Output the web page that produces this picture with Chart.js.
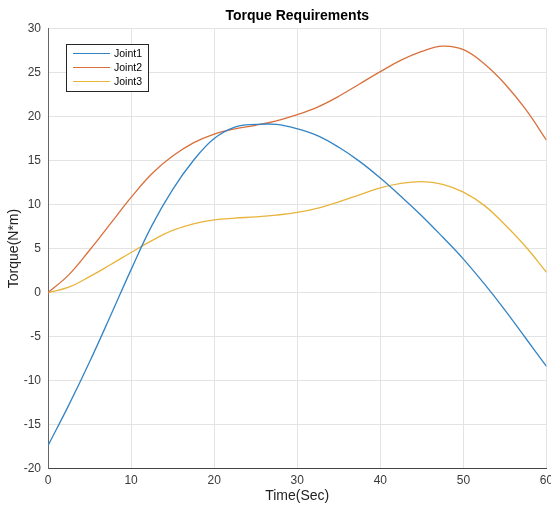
<!DOCTYPE html>
<html>
<head>
<meta charset="utf-8">
<script src="https://cdn.jsdelivr.net/npm/chart.js@4.4.0/dist/chart.umd.min.js"></script>
<style>
  html, body { margin: 0; padding: 0; background: #fff; overflow: hidden; }
  #wrap { width: 551px; height: 506px; position: relative; }
</style>
</head>
<body>
<div id="wrap"><canvas id="torqueChart"></canvas></div>
<script>
(function() {
  'use strict';

  var chartTitle = 'Torque Requirements';
  var xTitle = 'Time(Sec)';
  var yTitle = 'Torque(N*m)';
  var seriesNames = ['Joint1', 'Joint2', 'Joint3'];
  var seriesColors = ['#3384c4', '#d8703c', '#e8b43c'];

  var timeSec = [0, 2.5, 5, 7.5, 10, 12.5, 15, 17.5, 20, 22.5, 25, 27.5, 30, 32.5, 35, 37.5, 40, 42.5, 45, 47.5, 50, 52.5, 55, 57.5, 60];
  var joint1 = [-17.4, -12.8, -7.9, -2.7, 2.6, 7.6, 11.7, 15.0, 17.5, 18.8, 19.1, 19.1, 18.6, 17.8, 16.5, 14.9, 13.0, 10.9, 8.7, 6.3, 3.8, 1.0, -2.0, -5.2, -8.4];
  var joint2 = [0, 2.0, 4.8, 7.8, 10.8, 13.5, 15.5, 17.0, 18.0, 18.6, 19.0, 19.5, 20.2, 21.1, 22.3, 23.7, 25.1, 26.4, 27.4, 28.0, 27.6, 26.0, 23.7, 20.8, 17.3];
  var joint3 = [0, 0.6, 1.8, 3.15, 4.55, 5.9, 7.05, 7.8, 8.25, 8.45, 8.6, 8.8, 9.1, 9.6, 10.3, 11.1, 11.9, 12.4, 12.6, 12.3, 11.4, 9.9, 7.7, 5.2, 2.3];

  var xTicks = [0, 10, 20, 30, 40, 50, 60];
  var yTicks = [-20, -15, -10, -5, 0, 5, 10, 15, 20, 25, 30];

  function toPoints(values) {
    return values.map(function(v, i) { return { x: timeSec[i], y: v }; });
  }

  var allSeries = [joint1, joint2, joint3];
  var datasets = allSeries.map(function(values, i) {
    return {
      label: seriesNames[i],
      data: toPoints(values),
      borderColor: seriesColors[i],
      backgroundColor: seriesColors[i],
      borderWidth: 1.3,
      pointRadius: 0,
      tension: 0.4,
      fill: false
    };
  });

  // legend box drawn inside the plot, top-left like the matlab one
  var boxLegend = {
    id: 'boxLegend',
    afterDatasetsDraw: function(chart) {
      var ctx = chart.ctx;
      var x0 = 66, y0 = 44, w = 82, h = 47;
      ctx.save();
      ctx.fillStyle = '#fff';
      ctx.fillRect(x0, y0, w, h);
      ctx.strokeStyle = '#262626';
      ctx.lineWidth = 1;
      ctx.strokeRect(x0 + 0.5, y0 + 0.5, w, h);
      ctx.font = '10.5px "Liberation Sans", Arial, sans-serif';
      ctx.textBaseline = 'middle';
      ctx.fillStyle = '#000';
      chart.data.datasets.forEach(function(ds, i) {
        var y = y0 + 9 + i * 14;
        ctx.strokeStyle = ds.borderColor;
        ctx.lineWidth = 1.2;
        ctx.beginPath();
        ctx.moveTo(x0 + 7, y + 0.5);
        ctx.lineTo(x0 + 44, y + 0.5);
        ctx.stroke();
        ctx.fillText(ds.label, x0 + 48, y + 1);
      });
      ctx.restore();
    }
  };

  var tickFont = { family: '"Liberation Sans", Arial, sans-serif', size: 12 };

  new Chart(document.getElementById('torqueChart'), {
    type: 'line',
    data: { datasets: datasets },
    plugins: [boxLegend],
    options: {
      responsive: true,
      maintainAspectRatio: false,
      animation: false,
      devicePixelRatio: 1,
      layout: { padding: { left: 0, right: 4.5, top: 0, bottom: 0 } },
      plugins: {
        legend: { display: false },
        tooltip: { enabled: false },
        title: {
          display: true,
          text: chartTitle,
          fullSize: false,
          color: '#000',
          font: { family: '"Liberation Sans", Arial, sans-serif', size: 14, weight: 'bold' },
          padding: { top: 8, bottom: 3.7 }
        }
      },
      scales: {
        x: {
          type: 'linear',
          min: 0,
          max: 60,
          afterBuildTicks: function(scale) { scale.ticks = xTicks.map(function(v) { return { value: v }; }); },
          afterFit: function(scale) { scale.height = 37.5; scale.paddingLeft = 0; scale.paddingRight = 0; },
          ticks: { color: '#3a3a3a', font: tickFont, padding: 5, maxRotation: 0 },
          grid: { color: '#e3e3e3', drawTicks: false },
          border: { color: '#444', width: 1 },
          title: {
            display: true,
            text: xTitle,
            color: '#222',
            font: { family: '"Liberation Sans", Arial, sans-serif', size: 14 },
            padding: { top: 0, bottom: 1 }
          }
        },
        y: {
          min: -20,
          max: 30,
          afterBuildTicks: function(scale) { scale.ticks = yTicks.map(function(v) { return { value: v }; }); },
          afterFit: function(scale) { scale.width = 48; scale.paddingTop = 0; scale.paddingBottom = 0; },
          ticks: { color: '#3a3a3a', font: tickFont, padding: 7 },
          grid: { color: '#e3e3e3', drawTicks: false },
          border: { color: '#666', width: 1 },
          title: {
            display: true,
            text: yTitle,
            color: '#222',
            font: { family: '"Liberation Sans", Arial, sans-serif', size: 14 },
            padding: { top: 6, bottom: 0 }
          }
        }
      }
    }
  });
})();
</script>
</body>
</html>
